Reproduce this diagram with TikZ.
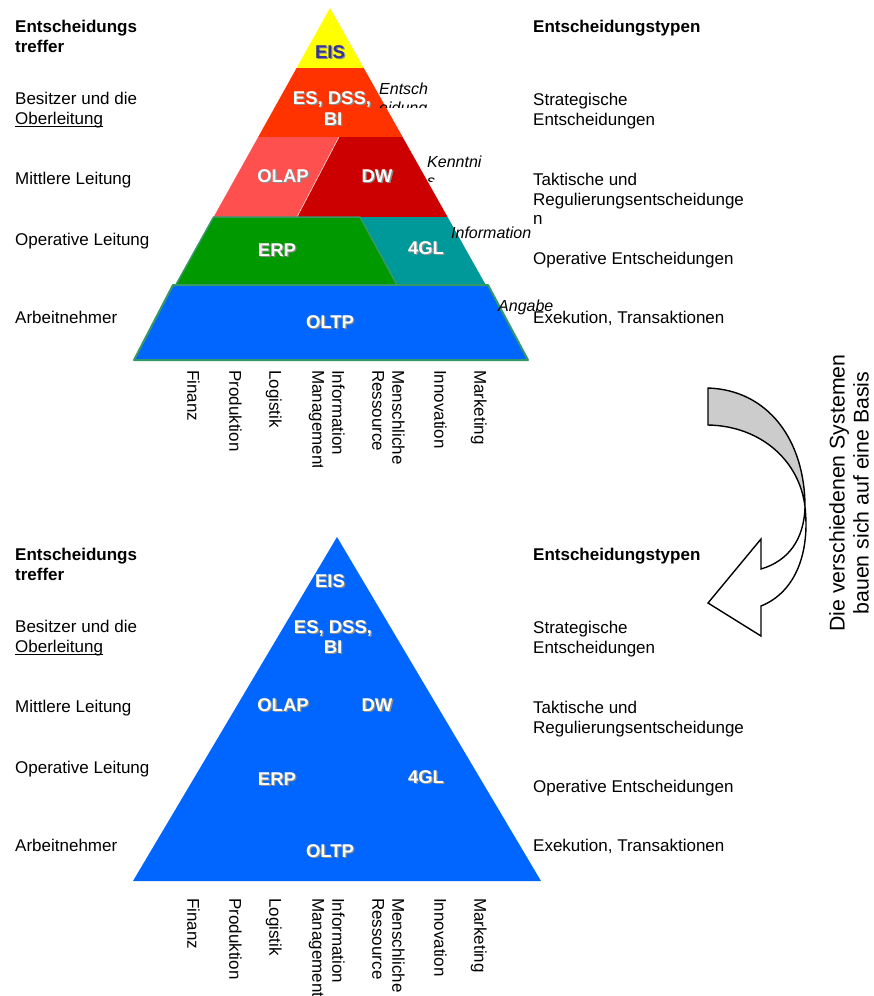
\documentclass[tikz,border=0pt]{standalone}
\usepackage{fontspec}
\setmainfont{Liberation Sans}
\definecolor{eisyellow}{HTML}{FFFF00}
\definecolor{esred}{HTML}{FF3300}
\definecolor{olapred}{HTML}{FF5050}
\definecolor{dwred}{HTML}{CC0000}
\definecolor{erpgreen}{HTML}{009900}
\definecolor{glteal}{HTML}{009999}
\definecolor{oltpblue}{HTML}{0066FF}
\definecolor{edgegreen}{HTML}{339966}
\definecolor{eisblue}{HTML}{333399}
\definecolor{arrowgray}{HTML}{CCCCCC}
\definecolor{shadowgray}{HTML}{8C8C8C}
\newcommand\fsnorm{\fontsize{17}{20}\selectfont}
\newcommand\fsbig{\fontsize{18.5}{21}\selectfont\bfseries}
\newcommand\fsit{\fontsize{16}{19}\selectfont\itshape}
\newcommand\fsarr{\fontsize{21.3}{22}\selectfont}
\newcommand\pyrtext[5]{%
  \node[plab, text=shadowgray] (#1s) at ({#2+1.3},{#3+1.3}) {#5};
  \node[plab, text=#4] (#1) at (#2,#3) {#5};}
\begin{document}
\begin{tikzpicture}[x=1pt,y=-1pt,
  txt/.style={inner sep=0pt, anchor=base west, font=\fsnorm},
  btxt/.style={inner sep=0pt, anchor=base west, font=\fsnorm\bfseries},
  itl/.style={inner sep=0pt, anchor=base west, font=\fsit},
  coltxt/.style={inner sep=0pt, anchor=mid west, rotate=-90, font=\fsnorm},
  arrtxt/.style={inner sep=0pt, anchor=center, rotate=90, font=\fsarr},
  plab/.style={inner sep=0pt, anchor=base, font=\fsbig},
  band/.style={draw=none},
  arrowline/.style={draw=black, line width=1.4pt, line join=miter}]
\useasboundingbox (0,0) rectangle (874,996);
\fill[white] (0,0) rectangle (874,996);

% ---------------- top pyramid ----------------
\fill[eisyellow] (330,8) -- (363.75,68) -- (296.6,68) -- cycle;
\fill[esred] (296.6,68) -- (363.75,68) -- (402.6,137) -- (258.2,137) -- cycle;
\fill[olapred] (258.2,137) -- (339,137) -- (297,217) -- (213.6,217) -- cycle;
\fill[dwred] (339,137) -- (402.6,137) -- (447.6,217) -- (297,217) -- cycle;
\draw[white!80!olapred, line width=0.6pt] (339,137) -- (297,217);
\fill[glteal] (360,217) -- (447.6,217) -- (485.8,285) -- (397,285) -- cycle;
\filldraw[fill=erpgreen, draw=edgegreen, line width=1.5pt, line join=round]
  (213.6,217) -- (360,217) -- (397,285) -- (175.8,285) -- cycle;
\filldraw[fill=oltpblue, draw=edgegreen, line width=2pt, line join=round]
  (173,285) -- (488,285) -- (528,360) -- (134,360) -- cycle;

\pyrtext{teis}{330}{58.6}{eisblue}{EIS}
\pyrtext{tes}{332}{104.6}{white}{ES, DSS,}
\pyrtext{tbi}{333}{125.6}{white}{BI}
\pyrtext{tolap}{283}{182.6}{white}{OLAP}
\pyrtext{tdw}{377}{182.6}{white}{DW}
\pyrtext{terp}{277}{256.6}{white}{ERP}
\pyrtext{tgl}{426}{254.6}{white}{4GL}
\pyrtext{toltp}{330}{328.6}{white}{OLTP}

% italic side notes (clipped text boxes)
\begin{scope}
  \clip (372,70) rectangle (440,107);
  \node[itl] (ent1) at (379,94) {Entsch};
  \node[itl] (ent2) at (379,113) {eidung};
\end{scope}
\begin{scope}
  \clip (420,140) rectangle (500,181);
  \node[itl] (ken1) at (427,167) {Kenntni};
  \node[itl] (ken2) at (427,186) {s};
\end{scope}
\node[itl] (info) at (451,238) {Information};
\node[itl] (angabe) at (498,311) {Angabe};

% left labels top
\node[btxt] (l1a) at (15,32) {Entscheidungs};
\node[btxt] (l1b) at (15,52) {treffer};
\node[txt] (l2a) at (15,104) {Besitzer und die};
\node[txt] (l2b) at (15,124) {Oberleitung};
\draw[line width=0.9pt] ([yshift=-2.6pt]l2b.base west) -- ([yshift=-2.6pt]l2b.base east);
\node[txt] (l3) at (15,184) {Mittlere Leitung};
\node[txt] (l4) at (15,245) {Operative Leitung};
\node[txt] (l5) at (15,323) {Arbeitnehmer};

% right labels top
\node[btxt] (r1) at (533,32) {Entscheidungstypen};
\node[txt] (r2a) at (533,105) {Strategische};
\node[txt] (r2b) at (533,125) {Entscheidungen};
\node[txt] (r3a) at (533,185) {Taktische und};
\node[txt] (r3b) at (533,205) {Regulierungsentscheidunge};
\node[txt] (r3c) at (533,224) {n};
\node[txt] (r4) at (533,264) {Operative Entscheidungen};
\node[txt] (r5) at (533,323) {Exekution, Transaktionen};

% column labels top
\node[coltxt] (c1) at (190,370) {Finanz};
\node[coltxt] (c2) at (232,370) {Produktion};
\node[coltxt] (c3) at (272,370) {Logistik};
\node[coltxt] (c4a) at (335,370) {Information};
\begin{scope}
  \clip (300,360) rectangle (330,466);
  \node[coltxt] (c4b) at (315,370) {Management};
\end{scope}
\node[coltxt] (c5a) at (395,370) {Menschliche};
\node[coltxt] (c5b) at (375,370) {Ressource};
\node[coltxt] (c6) at (437,370) {Innovation};
\node[coltxt] (c7) at (477,370) {Marketing};

% ---------------- curved arrow ----------------
\filldraw[fill=arrowgray, arrowline]
  (708,388) .. controls (768,390) and (805,440) .. (805,507)
  .. controls (800,462) and (762,426) .. (708,425) -- cycle;
\filldraw[fill=white, arrowline]
  (805,507) .. controls (804,540) and (788,561) .. (761,569)
  -- (761,539) -- (708,603) -- (761,636) -- (761,606)
  .. controls (796,592) and (810,552) .. (805,507) -- cycle;
\node[arrtxt] (at1) at (839,493) {Die verschiedenen Systemen};
\node[arrtxt] (at2) at (861,493) {bauen sich auf eine Basis};

% ---------------- bottom pyramid ----------------
\fill[oltpblue] (337,537) -- (541,881) -- (133,881) -- cycle;

\pyrtext{beis}{330}{587}{white}{EIS}
\pyrtext{bes}{333}{633.6}{white}{ES, DSS,}
\pyrtext{bbi}{333}{653.6}{white}{BI}
\pyrtext{bolap}{283}{711.6}{white}{OLAP}
\pyrtext{bdw}{377}{711.6}{white}{DW}
\pyrtext{berp}{277}{785.6}{white}{ERP}
\pyrtext{bgl}{426}{783.6}{white}{4GL}
\pyrtext{boltp}{330}{857.6}{white}{OLTP}

% left labels bottom
\node[btxt] (bl1a) at (15,560) {Entscheidungs};
\node[btxt] (bl1b) at (15,580) {treffer};
\node[txt] (bl2a) at (15,632) {Besitzer und die};
\node[txt] (bl2b) at (15,652) {Oberleitung};
\draw[line width=0.9pt] ([yshift=-2.6pt]bl2b.base west) -- ([yshift=-2.6pt]bl2b.base east);
\node[txt] (bl3) at (15,712) {Mittlere Leitung};
\node[txt] (bl4) at (15,773) {Operative Leitung};
\node[txt] (bl5) at (15,851) {Arbeitnehmer};

% right labels bottom
\node[btxt] (br1) at (533,560) {Entscheidungstypen};
\node[txt] (br2a) at (533,633) {Strategische};
\node[txt] (br2b) at (533,653) {Entscheidungen};
\node[txt] (br3a) at (533,713) {Taktische und};
\node[txt] (br3b) at (533,733) {Regulierungsentscheidunge};
\node[txt] (br4) at (533,792) {Operative Entscheidungen};
\node[txt] (br5) at (533,851) {Exekution, Transaktionen};

% column labels bottom
\node[coltxt] (bc1) at (190,898) {Finanz};
\node[coltxt] (bc2) at (232,898) {Produktion};
\node[coltxt] (bc3) at (272,898) {Logistik};
\node[coltxt] (bc4a) at (335,898) {Information};
\node[coltxt] (bc4b) at (315,898) {Management};
\node[coltxt] (bc5a) at (395,898) {Menschliche};
\node[coltxt] (bc5b) at (375,898) {Ressource};
\node[coltxt] (bc6) at (437,898) {Innovation};
\node[coltxt] (bc7) at (477,898) {Marketing};
\end{tikzpicture}
\end{document}
